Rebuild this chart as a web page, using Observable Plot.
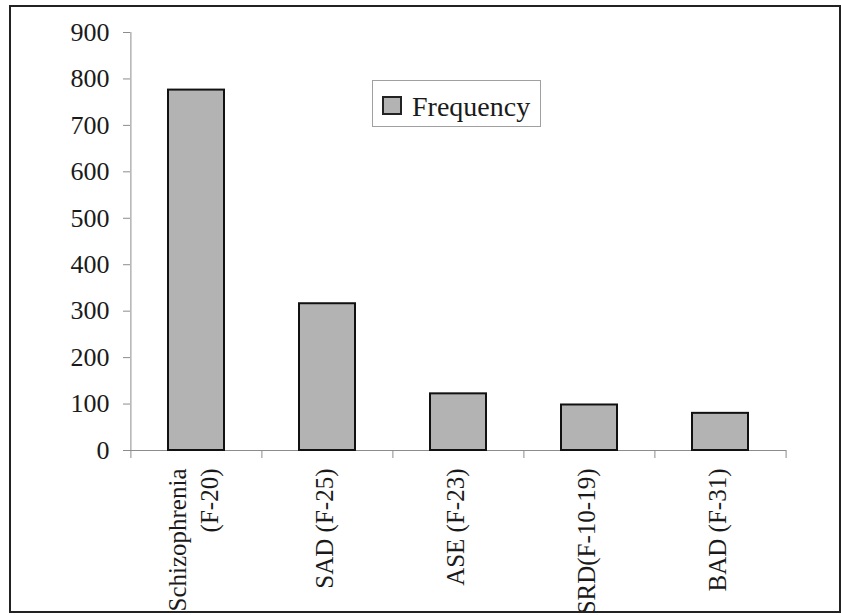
<!DOCTYPE html>
<html>
<head>
<meta charset="utf-8">
<script src="https://cdn.jsdelivr.net/npm/d3@7"></script>
<script src="https://cdn.jsdelivr.net/npm/@observablehq/plot@0.6"></script>
<style>
  body { margin: 0; background: #fff; }
  #wrap { position: relative; width: 841px; height: 615px; overflow: hidden; font-family: 'Liberation Serif', Tinos, 'Times New Roman', 'DejaVu Serif', serif; color: #1a1a1a; }
  #border { position: absolute; left: 9px; top: 5px; width: 828px; height: 604px; border: 2px solid #222; pointer-events: none; }
  #legend { position: absolute; left: 372px; top: 80px; width: 167px; height: 45px; border: 1px solid #a0a0a0; background: #fff; }
  #legend .sw { position: absolute; left: 9px; top: 15px; width: 16px; height: 15px; border: 2px solid #222; background: #b3b3b3; }
  #legend .lb { position: absolute; left: 39px; top: 12px; font-size: 28px; line-height: 1; white-space: nowrap; }
  svg { position: absolute; left: 0; top: 0; }
</style>
</head>
<body>
<div id="wrap">
  <div id="chart"></div>
  <div id="legend"><div class="sw"></div><div class="lb">Frequency</div></div>
  <div id="border"></div>
</div>
<script>
const categories = ["Schizophrenia\n(F-20)", "SAD (F-25)", "ASE (F-23)", "SRD(F-10-19)", "BAD (F-31)"];
const frequency = [776, 316, 122, 98, 80];
const yTicks = [0, 100, 200, 300, 400, 500, 600, 700, 800, 900];

const data = categories.map((c, i) => ({category: c, value: frequency[i]}));

const W = 841, H = 615, ML = 130, MR = 55, MT = 32, MB = 165;
const step = (W - ML - MR) / categories.length;
const axisGray = "#8c8c8c";
const serif = "'Liberation Serif', Tinos, 'Times New Roman', 'DejaVu Serif', serif";

const chart = Plot.plot({
  width: W,
  height: H,
  marginLeft: ML,
  marginRight: MR,
  marginTop: MT,
  marginBottom: MB,
  style: {fontFamily: serif, background: "transparent", color: "#1a1a1a", overflow: "visible"},
  x: {domain: categories, paddingInner: 0.575, paddingOuter: 0.2875, label: null},
  y: {domain: [0, 900], label: null},
  marks: [
    Plot.ruleY([0], {stroke: axisGray}),
    Plot.ruleX([categories[0]], {x: d => d, y1: 0, y2: 900, dx: -step / 2, stroke: axisGray}),
    Plot.ruleX(categories, {x: d => d, y1: 0, y2: 0, insetBottom: -8, dx: -step / 2, stroke: axisGray}),
    Plot.ruleX([categories[categories.length - 1]], {x: d => d, y1: 0, y2: 0, insetBottom: -8, dx: step / 2, stroke: axisGray}),
    Plot.barY(data, {x: "category", y: "value", fill: "#b3b3b3", stroke: "#111", strokeWidth: 2}),
    Plot.axisY({ticks: yTicks, tickSize: 7, tickPadding: 14, fontSize: 26, stroke: axisGray, fill: "#1a1a1a", label: null, fontFamily: serif}),
    Plot.axisX({tickSize: 0, tickRotate: -90, tickPadding: 18, dx: -5, fontSize: 25, textAnchor: "end", lineAnchor: "middle", lineHeight: 1.3, fill: "#1a1a1a", label: null, fontFamily: serif})
  ]
});
document.getElementById("chart").appendChild(chart);
</script>
</body>
</html>
